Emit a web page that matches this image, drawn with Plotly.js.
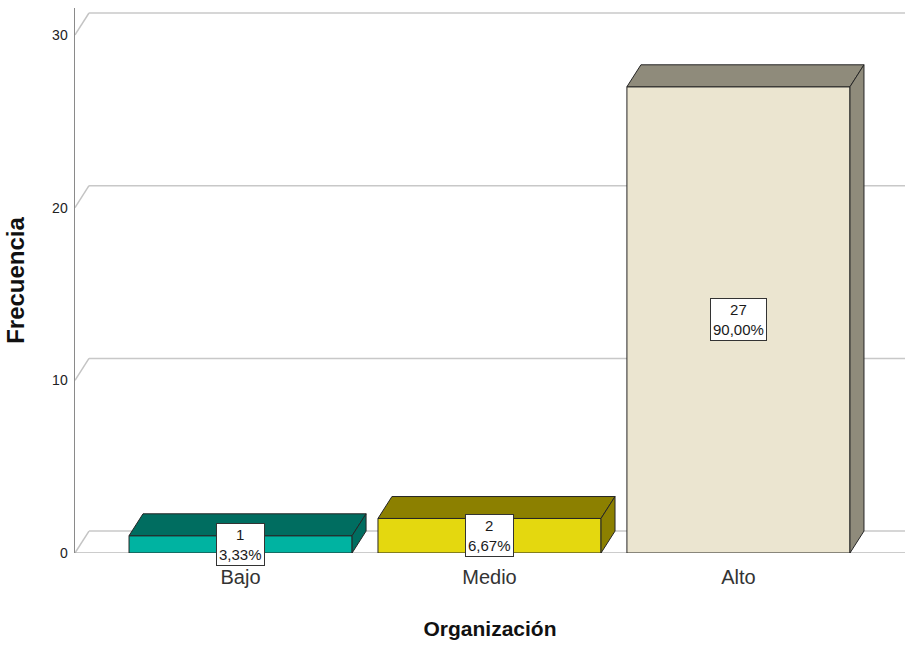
<!DOCTYPE html>
<html>
<head>
<meta charset="utf-8">
<script src="https://cdn.plot.ly/plotly-3.0.1.min.js"></script>
<style>html,body{margin:0;padding:0;background:#fff;}#chart{width:905px;height:645px;}</style>
</head>
<body>
<div id="chart"></div>
<script>
const categories = ["Bajo", "Medio", "Alto"];
const counts = [1, 2, 27];
const percentLabels = ["3,33%", "6,67%", "90,00%"];
const yTicks = [0, 10, 20, 30];
const frontColors = ["#00b3a1", "#e4d80f", "#ebe5d0"];
const shadeColors = ["#006d60", "#8c8000", "#8f8b7b"];

const FONT = "Liberation Sans, Arial, sans-serif";
const xMin = -0.665, xMax = 2.669;
const yMax = 31.56;
const barW = 0.896;
const dx = 0.0562;   // depth offset in x units
const dy = 1.27;     // depth offset in y units
const edge = "#262626";

const shapes = [];
// back wall grid lines with left-side diagonals
yTicks.forEach(v => {
  shapes.push({type: "line", xref: "x", yref: "y", layer: "below",
    x0: xMin, y0: v, x1: xMin + dx, y1: v + dy,
    line: {color: "#c4c4c4", width: 1.5}});
  shapes.push({type: "line", xref: "x", yref: "y", layer: "below",
    x0: xMin + dx, y0: v + dy, x1: xMax, y1: v + dy,
    line: {color: "#c8c8c8", width: 1.5}});
});
// front baseline
shapes.push({type: "line", xref: "x", yref: "y", layer: "below",
  x0: xMin, y0: 0, x1: xMax, y1: 0, line: {color: "#9a9a9a", width: 1.2}});

// 3D faces of bars
counts.forEach((v, i) => {
  const x0 = i - barW / 2, x1 = i + barW / 2;
  shapes.push({type: "path", xref: "x", yref: "y", layer: "above",
    path: `M ${x0},${v} L ${x1},${v} L ${x1 + dx},${v + dy} L ${x0 + dx},${v + dy} Z`,
    fillcolor: shadeColors[i], line: {color: edge, width: 1}});
  shapes.push({type: "path", xref: "x", yref: "y", layer: "above",
    path: `M ${x1},0 L ${x1 + dx},${dy} L ${x1 + dx},${v + dy} L ${x1},${v} Z`,
    fillcolor: shadeColors[i], line: {color: edge, width: 1}});
});

const annotations = counts.map((v, i) => ({
  x: i, y: v / 2, xref: "x", yref: "y",
  text: `${v}<br>${percentLabels[i]}`,
  showarrow: false,
  font: {family: FONT, size: 15, color: "#1a1a1a"},
  bgcolor: "#ffffff", bordercolor: "#333333", borderwidth: 1, borderpad: 2,
  align: "center"
}));

const trace = {
  type: "bar",
  x: categories.map((c, i) => i),
  y: counts,
  width: barW,
  marker: {color: frontColors, line: {color: edge, width: 1}},
  hoverinfo: "skip"
};

const layout = {
  width: 905, height: 645,
  margin: {l: 75, r: 0, t: 8, b: 92},
  paper_bgcolor: "#ffffff", plot_bgcolor: "#ffffff",
  showlegend: false,
  font: {family: FONT, color: "#222"},
  xaxis: {
    range: [xMin, xMax],
    tickvals: categories.map((c, i) => i),
    ticktext: categories,
    tickfont: {family: FONT, size: 20, color: "#333"},
    showgrid: false, zeroline: false, showline: false, ticks: "",
    ticklabelstandoff: 10,
    title: {text: "<b>Organización</b>", font: {family: FONT, size: 21, color: "#111"}, standoff: 34},
    fixedrange: true
  },
  yaxis: {
    range: [0, yMax],
    tickvals: yTicks,
    tickfont: {family: FONT, size: 14, color: "#222"},
    showgrid: false, zeroline: false,
    showline: true, linecolor: "#8a8a8a", linewidth: 1.5,
    ticks: "", ticklabelstandoff: 3,
    title: {text: "<b>Frecuencia</b>", font: {family: FONT, size: 24, color: "#111"}, standoff: 20},
    fixedrange: true
  },
  shapes: shapes,
  annotations: annotations
};

Plotly.newPlot("chart", [trace], layout, {displayModeBar: false, staticPlot: true});
</script>
</body>
</html>
